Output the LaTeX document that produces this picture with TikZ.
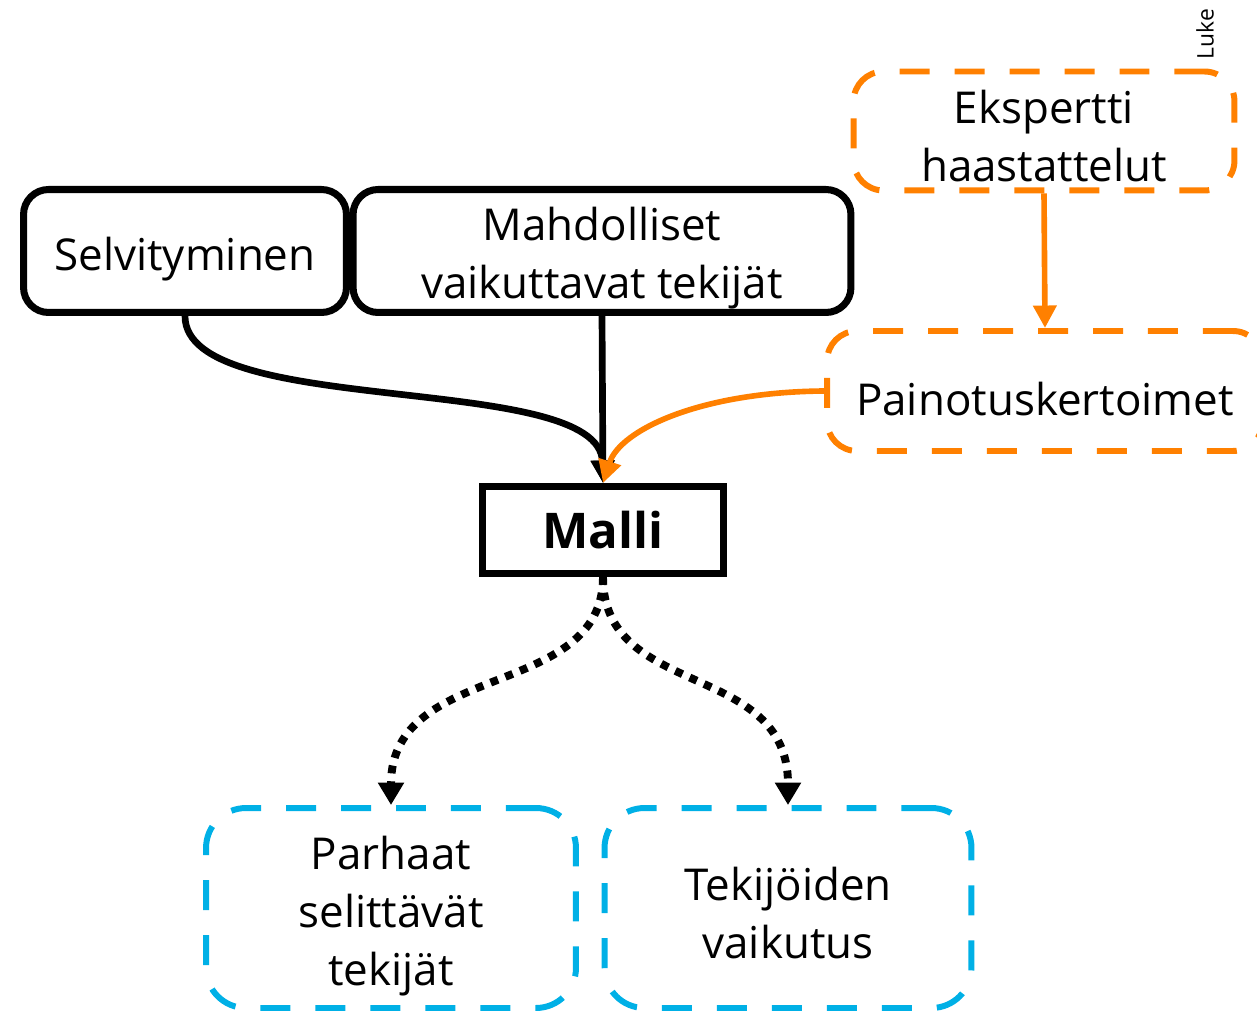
\documentclass[tikz,border=0pt]{standalone}
\usepackage{fontspec}
\setmainfont{Open Sans}
\usepackage{tikz}
\usetikzlibrary{arrows.meta,positioning,calc}
\definecolor{luOrange}{RGB}{255,128,0}
\definecolor{luCyan}{RGB}{0,176,230}

\begin{document}
\begin{tikzpicture}[x=0.02cm,y=-0.02cm,
  txt/.style={font=\fontsize{25}{33}\selectfont, align=center},
  lowered/.style={execute at begin node={\rule{0pt}{#1}}},
  solidbox/.style={txt, draw, line width=4pt, rounded corners=0.5cm, inner sep=0pt},
  orangebox/.style={txt, draw=luOrange, line width=3.4pt, rounded corners=0.6cm, inner sep=0pt, dash pattern=on 0.6cm off 0.5cm},
  cyanbox/.style={txt, draw=luCyan, line width=3.4pt, rounded corners=0.8cm, inner sep=0pt, dash pattern=on 0.6cm off 0.5cm},
  blackarrow/.style={line width=3.8pt, -{Triangle[length=0.45cm,width=0.45cm]}},
  orangearrow/.style={draw=luOrange, line width=3.2pt, -{Triangle[length=0.45cm,width=0.45cm]}, color=luOrange},
  dotarrow/.style={line width=4.5pt, dash pattern=on 4.5pt off 4.5pt, -{Triangle[length=0.45cm,width=0.5cm]}}]
\useasboundingbox (0,0) rectangle (1257,1016);

\node[solidbox, lowered=1.0cm, minimum width=6.46cm, minimum height=2.46cm] (selv) at (185,251) {Selvityminen};
\node[solidbox, lowered=2.13cm, minimum width=9.96cm, minimum height=2.46cm] (mahd) at (602,251) {Mahdolliset\\vaikuttavat tekijät};
\node[orangebox, lowered=2.03cm, minimum width=7.62cm, minimum height=2.38cm] (eksp) at (1044,131) {Ekspertti\\haastattelut};
\node[orangebox, lowered=1.0cm, minimum width=8.72cm, minimum height=2.4cm] (paino) at (1045,391) {Painotuskertoimet};
\node[draw, line width=4pt, minimum width=4.82cm, minimum height=1.74cm, inner sep=0pt,
  font=\fontsize{28}{34}\selectfont\bfseries] (malli) at (603,530) {Malli};
\node[cyanbox, lowered=3.32cm, minimum width=7.4cm, minimum height=4.0cm] (parh) at (391,908) {Parhaat\\selittävät\\tekijät};
\node[cyanbox, lowered=2.03cm, minimum width=7.34cm, minimum height=4.0cm] (teki) at (788,908) {Tekijöiden\\vaikutus};
\node[rotate=90, font=\fontsize{13}{15}\selectfont] (luke) at (1205,34) {Luke};

\draw[blackarrow] (selv.south) .. controls (185,420) and (600,370) .. (malli.north);
\draw[blackarrow] (mahd.south) -- (malli.north);
\draw[orangearrow] (eksp.south) -- (paino.north);
\draw[orangearrow] (paino.west) .. controls (700,392) and (620,430) .. (malli.north);
\draw[dotarrow] (malli.south) .. controls (603,700) and (391,660) .. (parh.north);
\draw[dotarrow] (malli.south) .. controls (603,700) and (788,660) .. (teki.north);
\end{tikzpicture}
\end{document}
